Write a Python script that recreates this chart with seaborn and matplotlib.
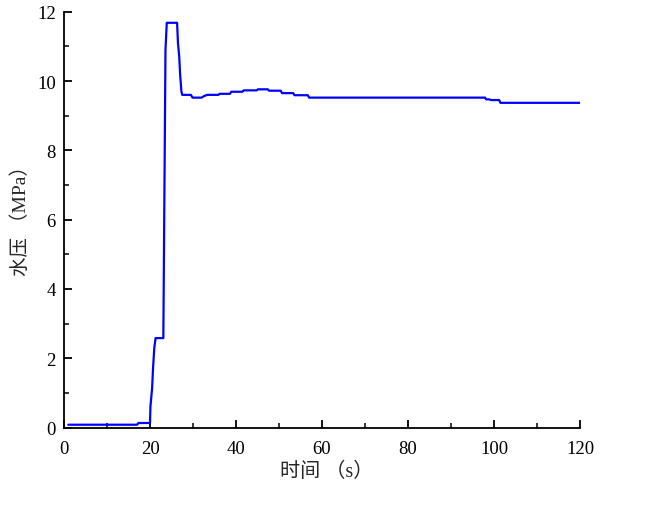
import numpy as np
import pandas as pd
import seaborn as sns
import matplotlib as mpl
from matplotlib import pyplot as plt
from matplotlib.ticker import MultipleLocator

# water pressure trace
time_s = [1, 17.0, 17.3, 20.0, 20.1, 20.5, 20.7, 21.0, 21.3, 23.1, 23.6, 23.9,
          26.3, 26.5, 26.8, 27.0, 27.3, 27.5, 29.5, 29.9, 32.0, 32.5, 33.3,
          35.9, 36.2, 38.6, 38.9, 41.5, 41.8, 44.8, 45.1, 47.4, 47.7, 50.4,
          50.7, 53.3, 53.6, 56.7, 57.0, 97.9, 98.2, 98.9, 99.3, 101.2, 101.5, 120]
pressure_mpa = [0.08, 0.08, 0.13, 0.13, 0.6, 1.15, 1.7, 2.3, 2.58, 2.58, 10.9, 11.68,
                11.68, 11.1, 10.7, 10.2, 9.7, 9.6, 9.6, 9.52, 9.52, 9.56, 9.6,
                9.6, 9.63, 9.63, 9.69, 9.69, 9.73, 9.73, 9.76, 9.76, 9.72, 9.72,
                9.65, 9.65, 9.59, 9.59, 9.52, 9.52, 9.47, 9.47, 9.45, 9.45, 9.37, 9.37]

df = pd.DataFrame({'t': time_s, 'p': pressure_mpa})

sns.set_style("ticks")
plt.rcParams['font.family'] = ['Liberation Serif', 'Noto Sans CJK SC']
plt.rcParams['axes.unicode_minus'] = False

fig = plt.figure(figsize=(6.48, 5.06), dpi=100)
ax = fig.add_axes([64/648, 1-428.5/506, 516/648, (428.5-12.7)/506])

sns.lineplot(data=df, x='t', y='p', color='#0000ff', linewidth=1.6, ax=ax)

ax.set_xlim(0, 120)
ax.set_ylim(0, 12)
ax.xaxis.set_major_locator(MultipleLocator(20))
ax.xaxis.set_minor_locator(MultipleLocator(10))
ax.yaxis.set_major_locator(MultipleLocator(2))
ax.yaxis.set_minor_locator(MultipleLocator(1))

for s in ['top', 'right']:
    ax.spines[s].set_visible(False)
for s in ['left', 'bottom']:
    ax.spines[s].set_linewidth(1.3)
    ax.spines[s].set_color('black')

ax.tick_params(which='major', direction='in', length=6, width=1.3, labelsize=13.5,
               colors='black', pad=6)
ax.tick_params(axis='x', which='major', pad=9)
ax.tick_params(which='minor', direction='in', length=3.5, width=1.3)

ax.set_xlabel('时间 （s）', fontsize=14.5)
ax.set_ylabel('水压 （MPa）', fontsize=14)
ax.xaxis.set_label_coords(0.51, -0.083)
ax.yaxis.set_label_coords(-0.066, 0.51)

plt.savefig('out.png', dpi=100)
plt.close()
